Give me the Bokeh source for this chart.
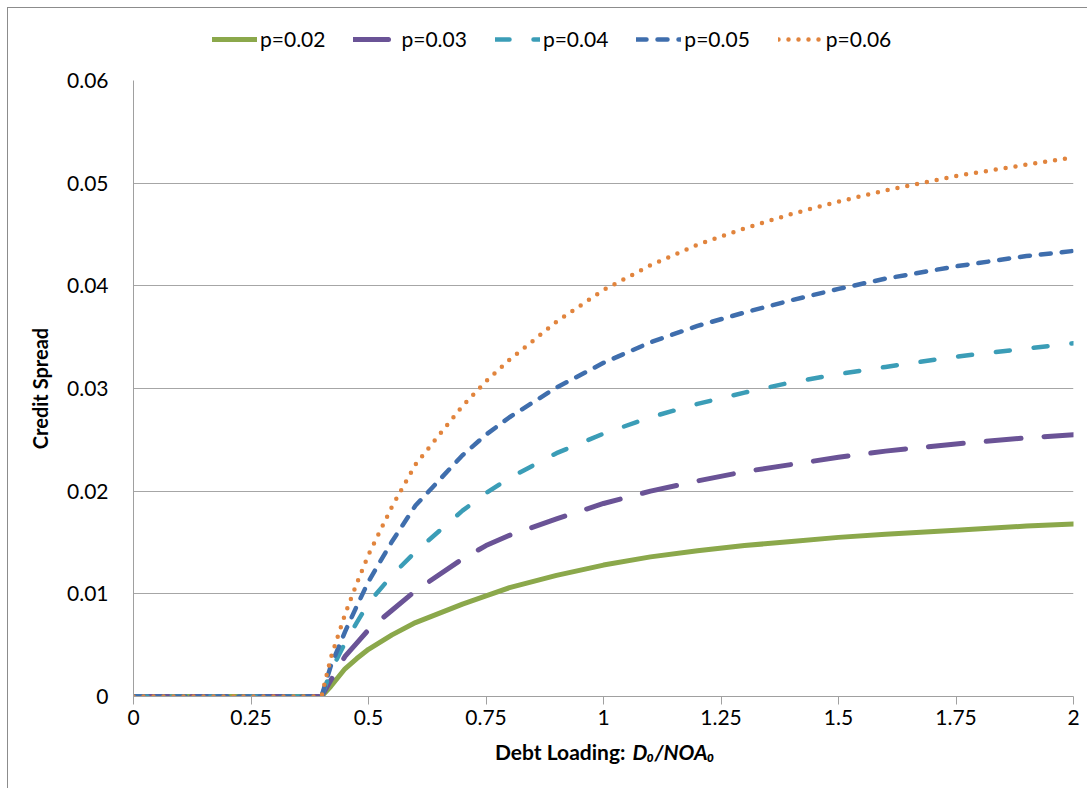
from bokeh.plotting import figure
from bokeh.layouts import column
from bokeh.models import Range1d, FixedTicker, Legend, LegendItem, Label
from bokeh.embed import file_html
from bokeh.resources import INLINE

# ---- data ----
debt_loading = [0, 0.1, 0.2, 0.3, 0.4, 0.42, 0.45, 0.475, 0.5, 0.55, 0.6, 0.7, 0.75,
                0.8, 0.9, 1.0, 1.1, 1.2, 1.3, 1.4, 1.5, 1.6, 1.75, 1.9, 2.0]

spread_p002 = [0, 0, 0, 0, 0, 0.0010, 0.0027, 0.0037, 0.0046, 0.0060, 0.0072, 0.0090, 0.0098,
               0.0106, 0.0118, 0.0128, 0.0136, 0.0142, 0.0147, 0.0151, 0.0155, 0.0158, 0.0162, 0.0166, 0.0168]
spread_p003 = [0, 0, 0, 0, 0, 0.0016, 0.0039, 0.0052, 0.0065, 0.0084, 0.0103, 0.0134, 0.0147,
               0.0157, 0.0173, 0.0188, 0.0200, 0.0210, 0.0219, 0.0226, 0.0233, 0.0239, 0.0246, 0.0252, 0.0255]
spread_p004 = [0, 0, 0, 0, 0, 0.0025, 0.0052, 0.0072, 0.0091, 0.0118, 0.0141, 0.0181, 0.0198,
               0.0213, 0.0237, 0.0256, 0.0272, 0.0285, 0.0296, 0.0306, 0.0314, 0.0321, 0.0331, 0.0339, 0.0344]
spread_p005 = [0, 0, 0, 0, 0, 0.0030, 0.0063, 0.0088, 0.0112, 0.0151, 0.0186, 0.0235, 0.0255,
               0.0272, 0.0301, 0.0325, 0.0345, 0.0361, 0.0374, 0.0386, 0.0397, 0.0407, 0.0419, 0.0429, 0.0434]
spread_p006 = [0, 0, 0, 0, 0, 0.0038, 0.0080, 0.0110, 0.0138, 0.0185, 0.0226, 0.0283, 0.0307,
               0.0328, 0.0365, 0.0396, 0.0420, 0.0440, 0.0456, 0.0470, 0.0482, 0.0493, 0.0507, 0.0518, 0.0525]

series_labels = ["p=0.02", "p=0.03", "p=0.04", "p=0.05", "p=0.06"]

x_ticks = [0, 0.25, 0.5, 0.75, 1, 1.25, 1.5, 1.75, 2]
x_tick_labels = ["0", "0.25", "0.5", "0.75", "1", "1.25", "1.5", "1.75", "2"]
y_ticks = [0, 0.01, 0.02, 0.03, 0.04, 0.05, 0.06]
y_tick_labels = ["0", "0.01", "0.02", "0.03", "0.04", "0.05", "0.06"]

x_title_plain = "Debt Loading: "
x_title_italic = "D\u2080/NOA\u2080"
y_title = "Credit Spread"

# ---- styles ----
FONT = "Lato"
W = 1079
FRAME_W = 940
styles = [
    dict(color="#8BA84B", dash="solid", width=5),
    dict(color="#6A5396", dash="35 23", width=5),
    dict(color="#3B9DB7", dash="14 24", width=4.5),
    dict(color="#3F6EAD", dash="10 11", width=4.5),
    dict(color="#E1843D", dash="0 10", width=4.5),
]
all_series = [spread_p002, spread_p003, spread_p004, spread_p005, spread_p006]


def bare(fig):
    fig.outline_line_color = None
    fig.xgrid.visible = False
    fig.ygrid.visible = False
    return fig


# ---- legend strip (its frame is aligned with the main chart's frame by the column) ----
leg_fig = bare(figure(width=W, height=60, output_backend="svg", toolbar_location=None,
                      x_range=Range1d(0, 1), y_range=Range1d(0, 1),
                      x_axis_location=None, y_axis_location=None,
                      min_border=0, border_fill_color="white"))
nan = float("nan")
proxies = [leg_fig.line([nan], [nan], line_color=st["color"], line_width=st["width"],
                        line_dash=st["dash"], line_cap="round", line_join="round") for st in styles]
legend = Legend(items=[LegendItem(label=lab, renderers=[r]) for lab, r in zip(series_labels, proxies)],
                orientation="horizontal", location=(79, 17),
                glyph_width=45, glyph_height=20, label_standoff=3, spacing=28,
                label_text_font=FONT, label_text_font_size="21px", label_text_color="black",
                padding=0, margin=0, border_line_color=None, background_fill_alpha=0)
leg_fig.add_layout(legend, "center")

# ---- main chart ----
p = figure(width=W, height=666, output_backend="svg", toolbar_location=None,
           x_range=Range1d(0, 2), y_range=Range1d(0, 0.06),
           min_border_left=125, min_border_right=14, min_border_top=12, min_border_bottom=38,
           background_fill_color="white", border_fill_color="white")
p.outline_line_color = None

for ys, st in zip(all_series, styles):
    p.line(debt_loading, ys, line_color=st["color"], line_width=st["width"],
           line_dash=st["dash"], line_cap="round", line_join="round")

p.xgrid.visible = False
p.ygrid.ticker = FixedTicker(ticks=y_ticks)
p.ygrid.grid_line_color = "#a6a6a6"
p.ygrid.grid_line_width = 1

p.xaxis.ticker = FixedTicker(ticks=x_ticks)
p.xaxis.major_label_overrides = dict(zip(x_ticks, x_tick_labels))
p.yaxis.ticker = FixedTicker(ticks=y_ticks)
p.yaxis.major_label_overrides = dict(zip(y_ticks, y_tick_labels))
for ax in (p.xaxis, p.yaxis):
    ax.axis_line_color = "#a0a0a0"
    ax.major_tick_line_color = "#a0a0a0"
    ax.minor_tick_line_color = None
    ax.major_tick_in = 0
    ax.major_label_text_font = FONT
    ax.major_label_text_font_size = "21px"
    ax.major_label_text_color = "black"
p.xaxis.major_tick_out = 8
p.xaxis.major_label_standoff = 5
p.yaxis.major_tick_out = 0
p.yaxis.major_label_standoff = 25

p.yaxis.axis_label = y_title
p.yaxis.axis_label_text_font = FONT
p.yaxis.axis_label_text_font_size = "20px"
p.yaxis.axis_label_text_font_style = "bold"
p.yaxis.axis_label_text_color = "black"
p.yaxis.axis_label_standoff = 12

# ---- x-axis title strip (mixed upright / italic); frame aligned with main frame ----
tit_fig = bare(figure(width=W, height=54, output_backend="svg", toolbar_location=None,
                      x_range=Range1d(0, FRAME_W), y_range=Range1d(0, 54),
                      x_axis_location=None, y_axis_location=None,
                      min_border=0, border_fill_color="white"))
tit_fig.add_layout(Label(x=497, y=37, text=x_title_plain,
                         text_align="right", text_baseline="middle", text_font=FONT,
                         text_font_size="21px", text_font_style="bold", text_color="black"))
tit_fig.add_layout(Label(x=499, y=37, text=x_title_italic,
                         text_align="left", text_baseline="middle", text_font=FONT,
                         text_font_size="21px", text_font_style="bold italic", text_color="black"))

layout = column(leg_fig, p, tit_fig, spacing=0)
layout.styles = {"margin-left": "7px", "margin-top": "7px",
                 "border-left": "1px solid #8c8c8c", "border-top": "1px solid #8c8c8c"}

open("out.html", "w").write(file_html(layout, INLINE))
